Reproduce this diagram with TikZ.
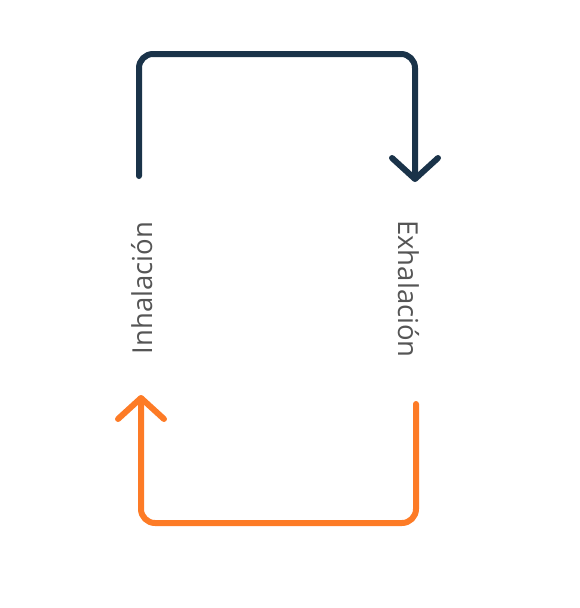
\documentclass[tikz,border=0pt]{standalone}
\usepackage{fontspec}
\setmainfont{Open Sans}
\usetikzlibrary{arrows.meta}

\definecolor{navy}{HTML}{1A3349}
\definecolor{naranja}{HTML}{FD7B26}
\definecolor{texto}{HTML}{555555}

\tikzset{
	loop/.style={line width=6pt, rounded corners=14pt, line cap=round, line join=round,
		-{Straight Barb[length=21pt,width=46pt,line cap=round,line join=round]}},
	fase/.style={text=texto, font=\fontsize{27.5}{32}\selectfont, inner sep=0pt}
}

\begin{document}
\begin{tikzpicture}[x=1pt,y=-1pt]
	\useasboundingbox (0,0) rectangle (580,608);
	
	\node[fase,rotate=90]  (inh) at (142,288) {Inhalación};
	\node[fase,rotate=-90] (exh) at (409,289) {Exhalación};
	
	\coordinate (inTop) at (139,176);
	\coordinate (exTop) at (415,182);
	\coordinate (exBot) at (416,404);
	\coordinate (inBot) at (141,395);
	
	\draw[loop,navy] (inTop) -- (inTop |- 0,54) -- (exTop |- 0,54) -- (exTop);
	\draw[loop,naranja] (exBot) -- (exBot |- 0,523) -- (inBot |- 0,523) -- (inBot);
	
\end{tikzpicture}
\end{document}
